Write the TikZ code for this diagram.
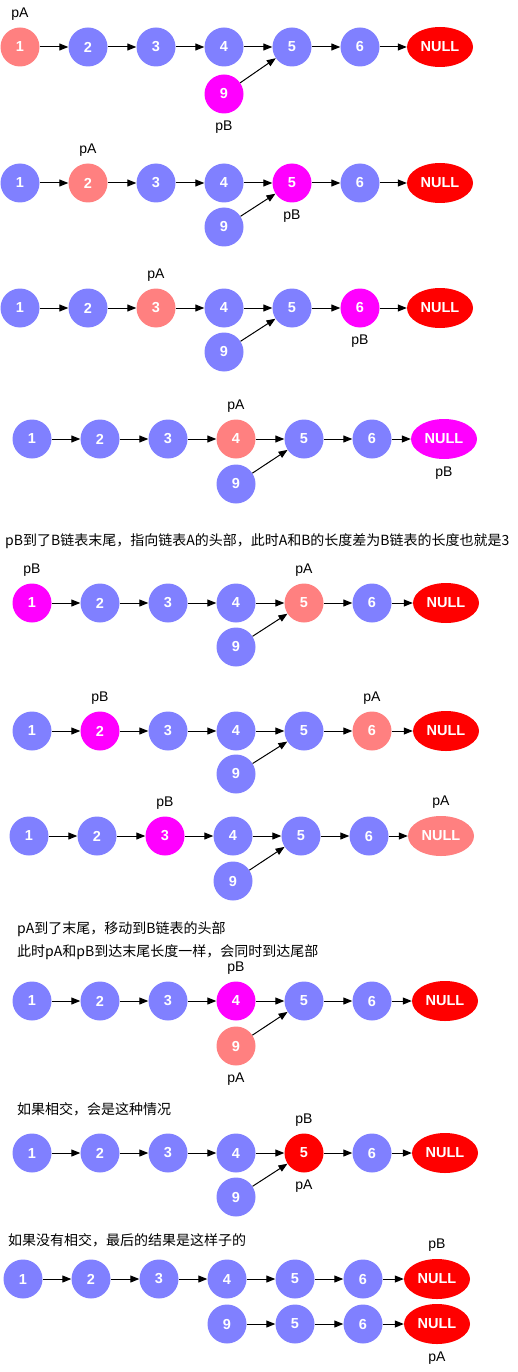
\documentclass[tikz,border=0pt]{standalone}
\usepackage{fontspec}
\setmainfont{Liberation Sans}
\newfontfamily\cjk{Noto Sans CJK SC}
\usetikzlibrary{arrows.meta, shapes.geometric, positioning}

\definecolor{nodeblue}{HTML}{8080FF}
\definecolor{pacolor}{HTML}{FF8080}
\definecolor{pbcolor}{HTML}{FF00FF}
\definecolor{nullred}{HTML}{FF0000}

\begin{document}
\begin{tikzpicture}[
    x=1pt, y=-1pt,
    ball/.style={circle, minimum size=39pt, inner sep=0pt, fill=nodeblue, text=white,
                 font=\fontsize{14.5}{16}\selectfont\bfseries},
    nul/.style={ellipse, minimum width=66pt, minimum height=40pt, inner sep=0pt,
                fill=nullred, text=white, font=\fontsize{14.5}{16}\selectfont\bfseries},
    ptr/.style={font=\fontsize{14}{15}\selectfont, inner sep=1pt},
    note/.style={anchor=west, inner sep=0pt, font=\cjk\fontsize{14}{16}\selectfont},
    arrow/.style={-{Triangle[length=9pt, width=7pt]}, line width=1pt},
    pa/.style={fill=pacolor},
    pb/.style={fill=pbcolor},
    pA up/.style={label={[ptr, label distance=6pt]above:pA}},
    pB up/.style={label={[ptr, label distance=6pt]above:pB}},
    pA down/.style={label={[ptr, label distance=6pt]below:pA}},
    pB down/.style={label={[ptr, label distance=6pt]below:pB}},
    % where the two pointers stand in each row
    r1-1/.style={pa, pA up}, r1-9/.style={pb, pB down},
    r2-2/.style={pa, pA up}, r2-5/.style={pb, pB down},
    r3-3/.style={pa, pA up}, r3-6/.style={pb, pB down},
    r4-4/.style={pa, pA up}, r4-N/.style={pb, pB down},
    r5-1/.style={pb, pB up}, r5-5/.style={pa, pA up},
    r6-2/.style={pb, pB up}, r6-6/.style={pa, pA up},
    r7-3/.style={pb, pB up}, r7-N/.style={pa, pA up},
    r8-4/.style={pb, pB up}, r8-9/.style={pa, pA down},
    r9-5/.style={fill=nullred, pB up, pA down},
]
\useasboundingbox (0,0) rectangle (518,1372);

\foreach \r/\y/\xo/\xn/\yn in {1/47/20/440/94, 2/183/20/440/227, 3/308/20/440/352,
    4/439/32/444/484, 5/603/32/446/647, 6/731/32/446/774, 7/836/29/441/881,
    8/1001/32/445/1046, 9/1153/32/445/1197} {
  \foreach \i in {1,...,6}
    \node[ball, r\r-\i/.try] (r\r-\i) at ({\xo+68*(\i-1)}, \y) {\i};
  \node[nul, r\r-N/.try] (r\r-N) at (\xn, \y) {NULL};
  \node[ball, r\r-9/.try] (r\r-9) at (\xo+204, \yn) {9};
  \foreach \i [count=\j from 2] in {1,...,5}
    \draw[arrow] (r\r-\i) -- (r\r-\j);
  \draw[arrow] (r\r-6) -- (r\r-N);
  \draw[arrow] (r\r-9) -- (r\r-5);
}

\node[note] (n1) at (5, 541) {pB到了B链表末尾，指向链表A的头部，此时A和B的长度差为B链表的长度也就是3};
\node[note] (n2) at (17, 929) {pA到了末尾，移动到B链表的头部};
\node[note] (n3) at (17, 952) {此时pA和pB到达末尾长度一样，会同时到达尾部};
\node[note] (n4) at (17, 1109) {如果相交，会是这种情况};
\node[note] (n5) at (8, 1240) {如果没有相交，最后的结果是这样子的};

% no intersection: two separate lists
\foreach \i in {1,...,6}
  \node[ball] (t\i) at ({23+68*(\i-1)}, 1279) {\i};
\node[nul, pB up] (tN) at (437, 1279) {NULL};
\node[ball] (b9) at (227, 1324) {9};
\node[ball] (b5) at (295, 1324) {5};
\node[ball] (b6) at (363, 1324) {6};
\node[nul, pA down] (bN) at (437, 1324) {NULL};

\foreach \i [count=\j from 2] in {1,...,5}
  \draw[arrow] (t\i) -- (t\j);
\draw[arrow] (t6) -- (tN);
\draw[arrow] (b9) -- (b5);
\draw[arrow] (b5) -- (b6);
\draw[arrow] (b6) -- (bN);
\end{tikzpicture}
\end{document}
